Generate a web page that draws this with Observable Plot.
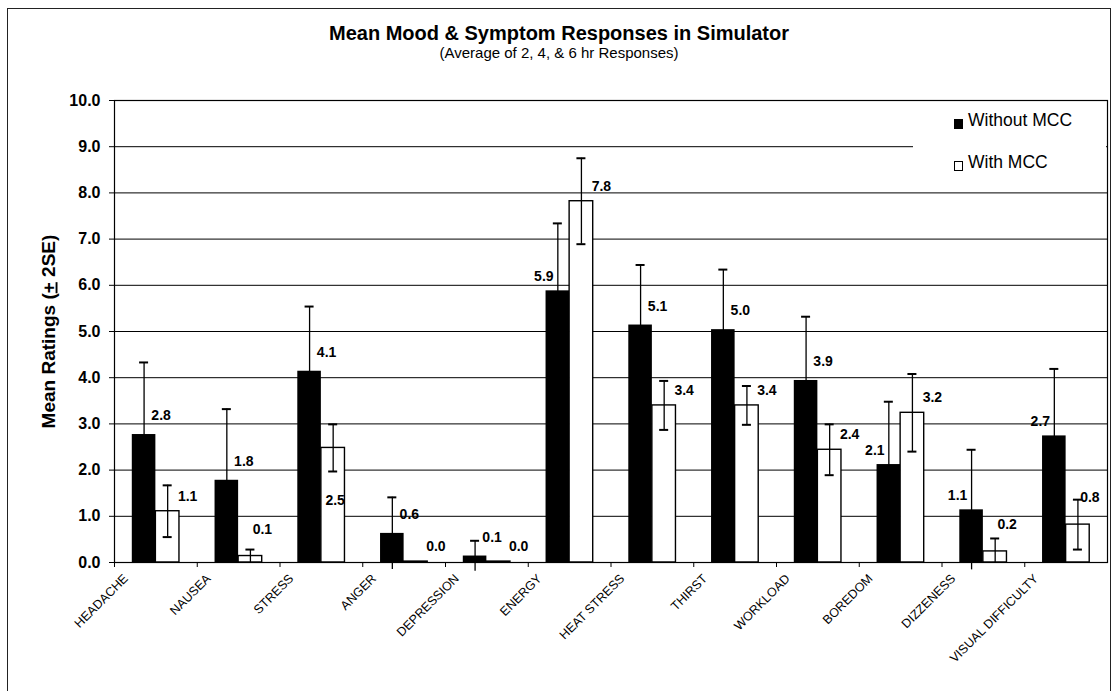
<!DOCTYPE html>
<html>
<head>
<meta charset="utf-8">
<script src="https://cdn.jsdelivr.net/npm/d3@7"></script>
<script src="https://cdn.jsdelivr.net/npm/@observablehq/plot@0.6"></script>
<style>
  body { margin: 0; background: #fff; font-family: Arial, "Liberation Sans", sans-serif; }
  #wrap { position: relative; width: 1112px; height: 691px; overflow: hidden; background: #fff; }
  #frame { position: absolute; left: 7px; top: 8px; width: 1102px; height: 720px; border: 1px solid #222; }
  #chart { position: absolute; left: 0; top: 0; }
  #title { position: absolute; left: 6px; width: 1106px; top: 22px; line-height: 22px; text-align: center; font-weight: bold; font-size: 20px; color: #000; }
  #subtitle { position: absolute; left: 6px; width: 1106px; top: 45px; line-height: 16px; text-align: center; font-size: 15px; color: #000; }
  #legend { position: absolute; left: 913px; top: 106px; width: 193px; height: 80px; background: #fff; }
  .sw { position: absolute; left: 41px; width: 9px; height: 10px; box-sizing: border-box; border: 1px solid #000; }
  .lt { position: absolute; left: 55px; font-size: 17.5px; line-height: 20px; color: #000; white-space: nowrap; }
</style>
</head>
<body>
<div id="wrap">
  <div id="frame"></div>
  <div id="chart"></div>
  <div id="title">Mean Mood &amp; Symptom Responses in Simulator</div>
  <div id="subtitle">(Average of 2, 4, &amp; 6 hr Responses)</div>
  <div id="legend">
    <div class="sw" style="top:13px;background:#000;"></div>
    <div class="lt" style="top:4px;">Without MCC</div>
    <div class="sw" style="top:55px;background:#fff;"></div>
    <div class="lt" style="top:46px;">With MCC</div>
  </div>
</div>
<script>
// ---- data ----
const categories = ["HEADACHE", "NAUSEA", "STRESS", "ANGER", "DEPRESSION", "ENERGY",
  "HEAT STRESS", "THIRST", "WORKLOAD", "BOREDOM", "DIZZENESS", "VISUAL DIFFICULTY"];
const seriesNames = ["Without MCC", "With MCC"];
const withoutMCC    = [2.77, 1.78, 4.14, 0.63, 0.14, 5.88, 5.14, 5.04, 3.94, 2.12, 1.14, 2.74];
const withoutMCC2SE = [1.56, 1.54, 1.40, 0.78, 0.33, 1.46, 1.30, 1.30, 1.38, 1.36, 1.30, 1.45];
const withMCC       = [1.11, 0.14, 2.48, 0.02, 0.02, 7.82, 3.40, 3.40, 2.44, 3.24, 0.24, 0.82];
const withMCC2SE    = [0.56, 0.14, 0.51, 0.00, 0.00, 0.93, 0.53, 0.42, 0.55, 0.84, 0.28, 0.54];
const yTicks = [0, 1, 2, 3, 4, 5, 6, 7, 8, 9, 10];
const yLabel = "Mean Ratings (+ 2SE)";

// ---- table built from the arrays ----
const fmt = d3.format(".1f");
const rows = [];
categories.forEach((c, i) => {
  rows.push({category: c, series: seriesNames[0], value: withoutMCC[i], err: withoutMCC2SE[i], label: fmt(withoutMCC[i])});
  rows.push({category: c, series: seriesNames[1], value: withMCC[i], err: withMCC2SE[i], label: fmt(withMCC[i])});
});
const blackRows = rows.filter(d => d.series === seriesNames[0]);
const whiteRows = rows.filter(d => d.series === seriesNames[1]);

// ---- layout ----
const W = 1112, H = 691, mL = 114, mR = 5, mT = 100, mB = 129;
const padIn = 0.43;
const step = (W - mL - mR) / categories.length;
const bw = step * (1 - padIn);   // width of a pair of bars
const half = bw / 2, quarter = bw / 4;
const capW = 9;
const capIn = quarter - capW / 2;

// label placement styles
const labelLeft = new Set(["ENERGY", "BOREDOM", "DIZZENESS", "VISUAL DIFFICULTY"]);
const labelInside = new Set(["STRESS"]);
const labelHigh = new Set(["NAUSEA", "DIZZENESS", "VISUAL DIFFICULTY"]);
const font = "Arial, 'Liberation Sans', sans-serif";
const lbl = {x: "category", y: "value", text: "label", fontSize: 14, fontWeight: "bold", fill: "#000"};

const chart = Plot.plot({
  width: W, height: H,
  marginLeft: mL, marginRight: mR, marginTop: mT, marginBottom: mB,
  style: {fontFamily: font, color: "#000", background: "transparent", overflow: "visible"},
  x: {domain: categories, paddingInner: padIn, paddingOuter: padIn / 2, round: false, label: null},
  y: {domain: [0, 10], label: null},
  marks: [
    Plot.ruleY(yTicks.filter(v => v > 0 && v < 10), {stroke: "#000", strokeWidth: 1}),
    Plot.barY(blackRows, {x: "category", y: "value", fill: "#000", insetRight: half}),
    Plot.barY(whiteRows, {x: "category", y: "value", fill: "#fff", stroke: "#000", strokeWidth: 1.4, insetLeft: half}),
    // error bars
    Plot.ruleX(blackRows.filter(d => d.err > 0), {x: "category", y1: d => d.value - d.err, y2: d => d.value + d.err, dx: -quarter, stroke: "#000", strokeWidth: 1.3}),
    Plot.ruleX(whiteRows.filter(d => d.err > 0), {x: "category", y1: d => Math.max(0, d.value - d.err), y2: d => d.value + d.err, dx: quarter, stroke: "#000", strokeWidth: 1.3}),
    Plot.tickY(blackRows.filter(d => d.err > 0), {x: "category", y: d => d.value + d.err, insetLeft: capIn, insetRight: bw - capIn - capW, stroke: "#000", strokeWidth: 2}),
    Plot.tickY(whiteRows.filter(d => d.err > 0), {x: "category", y: d => d.value + d.err, insetLeft: bw - capIn - capW, insetRight: capIn, stroke: "#000", strokeWidth: 2}),
    Plot.tickY(whiteRows.filter(d => d.err > 0 && d.value - d.err > 0.02), {x: "category", y: d => d.value - d.err, insetLeft: bw - capIn - capW, insetRight: capIn, stroke: "#000", strokeWidth: 2}),
    // value labels
    Plot.text(blackRows.filter(d => !labelLeft.has(d.category)), {...lbl, dx: -quarter + 17, dy: -19}),
    Plot.text(blackRows.filter(d => labelLeft.has(d.category)), {...lbl, dx: -quarter - 14, dy: -14}),
    Plot.text(whiteRows.filter(d => !labelInside.has(d.category) && !labelHigh.has(d.category)), {...lbl, dx: quarter + 20, dy: -15}),
    Plot.text(whiteRows.filter(d => labelHigh.has(d.category)), {...lbl, dx: quarter + 12, dy: -27}),
    Plot.text(whiteRows.filter(d => labelInside.has(d.category)), {...lbl, dx: quarter + 2, dy: 53}),
    // axes
    Plot.axisY({ticks: yTicks, tickFormat: fmt, tickSize: 5, tickPadding: 9, fontSize: 16, fontWeight: "bold", label: null}),
    Plot.axisX({tickRotate: -45, tickSize: 0, tickPadding: 14, dx: -30, fontSize: 12.5, fill: "#000", label: null}),
    Plot.axisX({tickSize: 5, tickFormat: () => "", dx: -step / 2, label: null}),
    Plot.text([yLabel], {frameAnchor: "left", rotate: -90, dx: -66, textAnchor: "middle", fontSize: 19, fontWeight: "bold", fill: "#000"}),
    Plot.frame({stroke: "#000", strokeWidth: 1.2})
  ]
});
document.getElementById("chart").appendChild(chart);

// underline the "+" of the y-axis title (±)
d3.select(chart).selectAll("text").filter(function () { return this.textContent === yLabel; })
  .each(function () {
    const t = d3.select(this);
    t.text(null);
    t.append("tspan").text("Mean Ratings (");
    t.append("tspan").attr("text-decoration", "underline").text("+");
    t.append("tspan").text(" 2SE)");
  });
</script>
</body>
</html>
